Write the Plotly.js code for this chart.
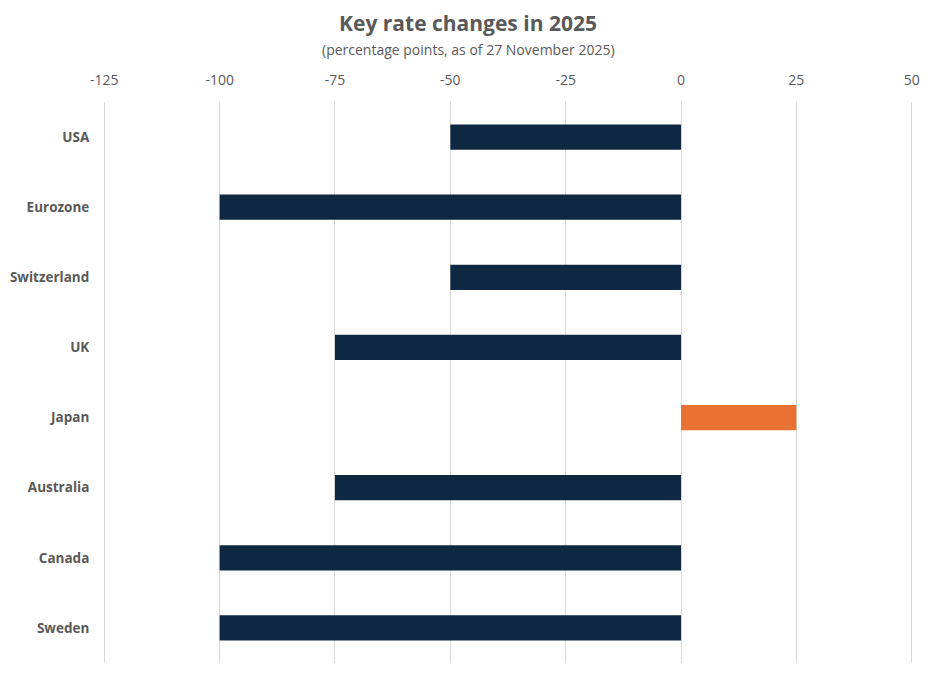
<!DOCTYPE html>
<html>
<head>
<meta charset="utf-8">
<script src="https://cdn.plot.ly/plotly-3.0.1.min.js"></script>
<style>html,body{margin:0;padding:0;background:#fff;}#chart{width:936px;height:679px;}</style>
</head>
<body>
<div id="chart"></div>
<script>
const countries = ["USA", "Eurozone", "Switzerland", "UK", "Japan", "Australia", "Canada", "Sweden"];
const changes = [-50, -100, -50, -75, 25, -75, -100, -100];
const tickValues = [-125, -100, -75, -50, -25, 0, 25, 50];
const tickLabels = ["-125", "-100", "-75", "-50", "-25", "0", "25", "50"];

const colors = changes.map(v => v > 0 ? "#E97132" : "#0E2841");
const font = '"Open Sans", Inter, "Liberation Sans", sans-serif';

Plotly.newPlot("chart", [{
  type: "bar",
  orientation: "h",
  y: countries,
  x: changes,
  marker: {color: colors, line: {width: 0}},
  hoverinfo: "x+y"
}], {
  width: 936, height: 679,
  margin: {l: 102, r: 22, t: 102, b: 16},
  paper_bgcolor: "#fff", plot_bgcolor: "#fff",
  showlegend: false,
  bargap: 0.64,
  font: {family: font, color: "#595959"},
  title: {text: "<b>Key rate changes in 2025</b>", x: 0.5, xref: "container", xanchor: "center", y: 1 - 24/679, yref: "container", yanchor: "middle", font: {size: 21, color: "#595959", family: font}},
  annotations: [{text: "(percentage points, as of 27 November 2025)", xref: "paper", yref: "paper", x: (468-102)/812, xanchor: "center", y: 1, yshift: 53, yanchor: "middle", showarrow: false, font: {size: 14, color: "#595959", family: font}}],
  xaxis: {
    side: "top", range: [-125.5, 50.5], tickvals: tickValues, ticktext: tickLabels,
    showgrid: true, gridcolor: "#d9d9d9", gridwidth: 1,
    zeroline: true, zerolinecolor: "#d9d9d9", zerolinewidth: 1,
    showline: false, ticks: "outside", ticklen: 10, tickcolor: "rgba(0,0,0,0)",
    tickfont: {size: 14, color: "#595959"}, fixedrange: true
  },
  yaxis: {
    autorange: "reversed", showgrid: false, zeroline: false, showline: false,
    ticks: "outside", ticklen: 9, tickcolor: "rgba(0,0,0,0)",
    tickfont: {size: 13.5, color: "#595959"}, tickprefix: "<b>", ticksuffix: "</b>", fixedrange: true
  }
}, {displayModeBar: false, staticPlot: true});
</script>
</body>
</html>
